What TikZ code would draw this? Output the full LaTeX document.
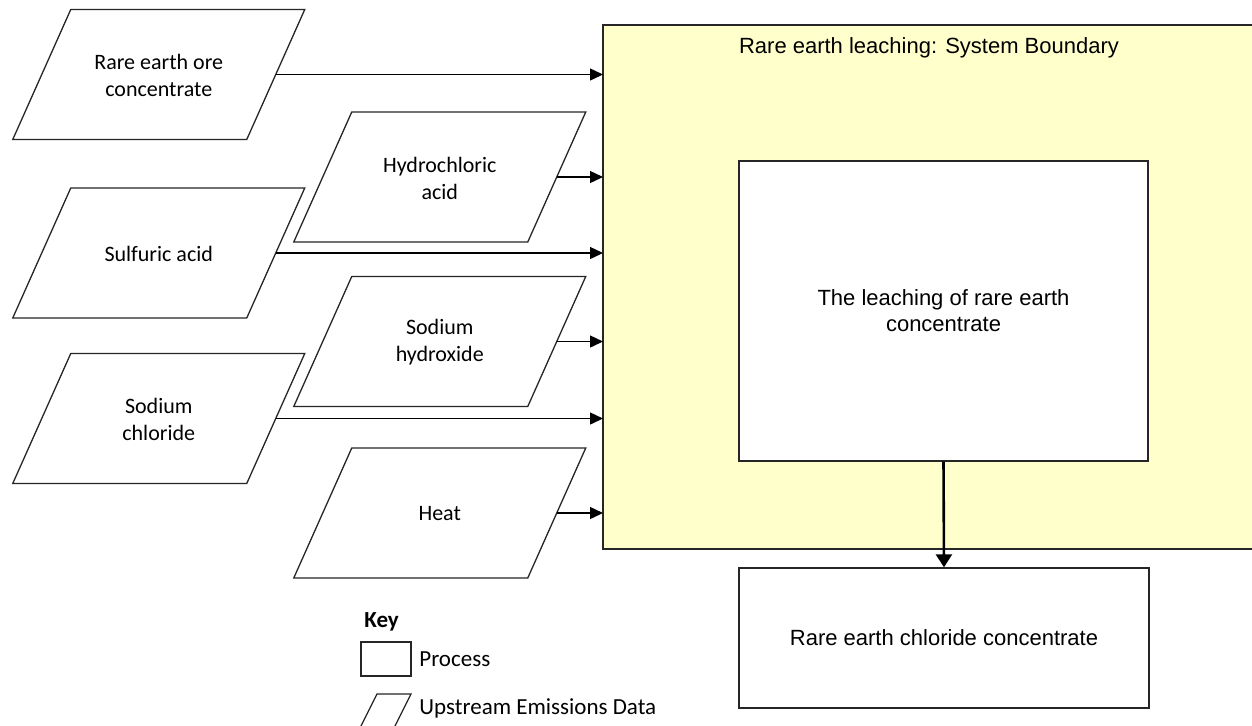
\documentclass[tikz,border=0pt]{standalone}
\usepackage{fontspec}
\setmainfont{Carlito}
\newfontfamily\arialf{Liberation Sans}
\usetikzlibrary{arrows.meta}
\definecolor{boundyellow}{HTML}{FFFFCC}
\tikzset{
  ptext/.style={align=center, font=\fontsize{11pt}{13.5pt}\selectfont, inner sep=0pt},
  atext/.style={align=center, font=\arialf\fontsize{11pt}{13pt}\selectfont, inner sep=0pt},
  ktext/.style={anchor=west, font=\fontsize{11.5pt}{13pt}\selectfont, inner sep=0pt},
  pline/.style={draw=black!85, line width=0.65pt, line join=miter},
  arr/.style={draw=black, line width=0.7pt, -{Triangle[length=6.5pt,width=6pt]}},
  bigarr/.style={draw=black, line width=1.3pt, -{Triangle[length=6.5pt,width=8pt]}},
  procbox/.style={draw=black!85, line width=0.7pt, fill=white, inner sep=0pt},
  bound/.style={draw=black!85, line width=0.8pt, fill=boundyellow}
}
\newcommand\paral[4]{%
  \begin{scope}[shift={(#2,#3)}]
    \draw[pline] (-88,-65) -- (146,-65) -- (88,65) -- (-146,65) -- cycle;
    \node[ptext] (#1) at (0,1) {#4};
    \coordinate (#1e) at (117,0);
  \end{scope}}
\begin{document}
\begin{tikzpicture}[x=0.5pt,y=-0.5pt]
\clip (0,0) rectangle (1252,725);
\fill[white] (0,0) rectangle (1252,725);

% system boundary
\coordinate (bnw) at (603,25);
\coordinate (bse) at (1256,549);
\draw[bound] (bnw) rectangle (bse);
\node[atext] (blabel) at (929,48) {Rare earth leaching: System Boundary};

% process boxes
\node[procbox, minimum width=204.5pt, minimum height=150pt] (leach) at (943.5,311) {};
\node[atext] (leacht) at (leach.center) {The leaching of rare earth\\concentrate};
\node[procbox, minimum width=205pt, minimum height=70pt] (out) at (944,638) {};
\node[atext] (outt) at (out.center) {Rare earth chloride concentrate};

% upstream inputs
\paral{p1}{158.75}{74.5}{Rare earth ore\\concentrate}
\paral{p2}{158.75}{253}{Sulfuric acid}
\paral{p3}{158.75}{418.5}{Sodium\\chloride}
\paral{p4}{439.75}{177}{Hydrochloric\\acid}
\paral{p5}{439.75}{341.5}{Sodium\\hydroxide}
\paral{p6}{439.75}{513}{Heat}

% connectors
\foreach \p in {p1,p2,p3,p4,p5,p6}{
  \draw[arr] (\p e) -- (\p e -| bnw);
}
\draw[bigarr] (leach.south) -- (out.north);

% key
\node[ktext, font=\bfseries\fontsize{11.5pt}{13pt}\selectfont] (key) at (364,622) {Key};
\draw[pline] (361,642) rectangle (411,676);
\coordinate (kproc) at (411,659);
\node[ktext] (kproct) at (419,659) {Process};
\draw[pline] (377,694) -- (411,694) -- (394,728) -- (360,728) -- cycle;
\node[ktext] (kupt) at (419,708) {Upstream Emissions Data};
\end{tikzpicture}
\end{document}
